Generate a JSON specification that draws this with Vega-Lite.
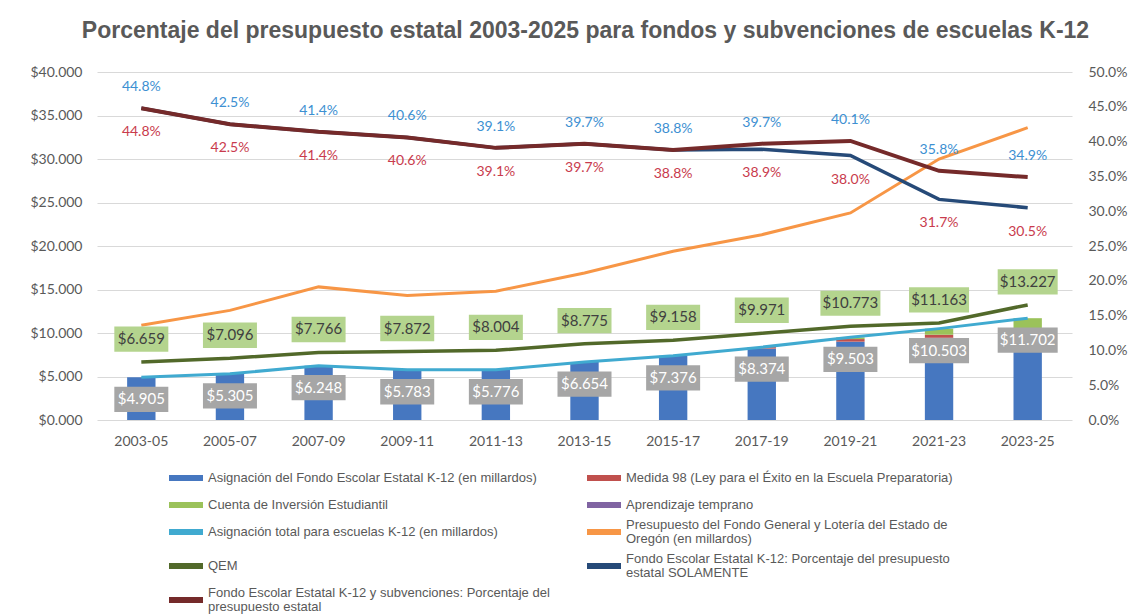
{
  "$schema": "https://vega.github.io/schema/vega-lite/v6.json",
  "autosize": {"type": "none"},
  "width": 975,
  "height": 348,
  "padding": {"left": 97, "top": 72, "right": 74, "bottom": 196},
  "background": "white",
  "title": {
    "text": "Porcentaje del presupuesto estatal 2003-2025 para fondos y subvenciones de escuelas K-12",
    "font": "Liberation Sans",
    "fontSize": 23,
    "fontWeight": "bold",
    "color": "#595959",
    "anchor": "middle",
    "baseline": "alphabetic",
    "offset": 4,
    "dx": 1
  },
  "config": {
    "view": {"stroke": null},
    "axis": {"labelFont": "Lato", "labelFontSize": 14, "labelColor": "#595959", "ticks": false, "domain": false, "title": null, "labelOverlap": false}
  },
  "datasets": {
    "bars": [
      {"period": "2003-05", "series": "Asignación del Fondo Escolar Estatal K-12 (en millardos)", "value": 4.905, "k": 1},
      {"period": "2005-07", "series": "Asignación del Fondo Escolar Estatal K-12 (en millardos)", "value": 5.305, "k": 1},
      {"period": "2007-09", "series": "Asignación del Fondo Escolar Estatal K-12 (en millardos)", "value": 6.248, "k": 1},
      {"period": "2009-11", "series": "Asignación del Fondo Escolar Estatal K-12 (en millardos)", "value": 5.783, "k": 1},
      {"period": "2011-13", "series": "Asignación del Fondo Escolar Estatal K-12 (en millardos)", "value": 5.776, "k": 1},
      {"period": "2013-15", "series": "Asignación del Fondo Escolar Estatal K-12 (en millardos)", "value": 6.654, "k": 1},
      {"period": "2015-17", "series": "Asignación del Fondo Escolar Estatal K-12 (en millardos)", "value": 7.376, "k": 1},
      {"period": "2017-19", "series": "Asignación del Fondo Escolar Estatal K-12 (en millardos)", "value": 8.204, "k": 1},
      {"period": "2019-21", "series": "Asignación del Fondo Escolar Estatal K-12 (en millardos)", "value": 9.003, "k": 1},
      {"period": "2021-23", "series": "Asignación del Fondo Escolar Estatal K-12 (en millardos)", "value": 9.453, "k": 1},
      {"period": "2023-25", "series": "Asignación del Fondo Escolar Estatal K-12 (en millardos)", "value": 10.202, "k": 1},
      {"period": "2017-19", "series": "Medida 98 (Ley para el Éxito en la Escuela Preparatoria)", "value": 0.17, "k": 2},
      {"period": "2019-21", "series": "Medida 98 (Ley para el Éxito en la Escuela Preparatoria)", "value": 0.3, "k": 2},
      {"period": "2021-23", "series": "Medida 98 (Ley para el Éxito en la Escuela Preparatoria)", "value": 0.35, "k": 2},
      {"period": "2023-25", "series": "Medida 98 (Ley para el Éxito en la Escuela Preparatoria)", "value": 0.35, "k": 2},
      {"period": "2019-21", "series": "Cuenta de Inversión Estudiantil", "value": 0.2, "k": 3},
      {"period": "2021-23", "series": "Cuenta de Inversión Estudiantil", "value": 0.7, "k": 3},
      {"period": "2023-25", "series": "Cuenta de Inversión Estudiantil", "value": 1.15, "k": 3}
    ],
    "main": [
      {"period": "2003-05", "total": 4.905, "qem": 6.659, "gf": 10.9, "pall": 0.448, "pssf": 0.448},
      {"period": "2005-07", "total": 5.305, "qem": 7.096, "gf": 12.6, "pall": 0.425, "pssf": 0.425},
      {"period": "2007-09", "total": 6.248, "qem": 7.766, "gf": 15.3, "pall": 0.414, "pssf": 0.414},
      {"period": "2009-11", "total": 5.783, "qem": 7.872, "gf": 14.3, "pall": 0.406, "pssf": 0.406},
      {"period": "2011-13", "total": 5.776, "qem": 8.004, "gf": 14.8, "pall": 0.391, "pssf": 0.391},
      {"period": "2013-15", "total": 6.654, "qem": 8.775, "gf": 16.9, "pall": 0.397, "pssf": 0.397},
      {"period": "2015-17", "total": 7.376, "qem": 9.158, "gf": 19.4, "pall": 0.388, "pssf": 0.388},
      {"period": "2017-19", "total": 8.374, "qem": 9.971, "gf": 21.3, "pall": 0.397, "pssf": 0.389},
      {"period": "2019-21", "total": 9.503, "qem": 10.773, "gf": 23.8, "pall": 0.401, "pssf": 0.380},
      {"period": "2021-23", "total": 10.503, "qem": 11.163, "gf": 30.0, "pall": 0.358, "pssf": 0.317},
      {"period": "2023-25", "total": 11.702, "qem": 13.227, "gf": 33.6, "pall": 0.349, "pssf": 0.305}
    ]
  },
  "encoding": {
    "x": {
      "field": "period", "type": "nominal", "sort": null,
      "scale": {"paddingInner": 0.68, "paddingOuter": 0.34},
      "axis": {"labelAngle": 0, "labelPadding": 14, "grid": false}
    }
  },
  "layer": [
    {
      "encoding": {
        "y": {
          "type": "quantitative", "scale": {"domain": [0, 40], "nice": false},
          "axis": {
            "values": [0, 5, 10, 15, 20, 25, 30, 35, 40],
            "labelExpr": "'$' + format(datum.value, '.3f')",
            "grid": true, "gridColor": "#d9d9d9", "gridWidth": 1, "labelPadding": 15
          }
        }
      },
      "layer": [
        {
          "data": {"name": "bars"},
          "mark": {"type": "bar"},
          "encoding": {
            "y": {"field": "value", "type": "quantitative", "aggregate": "sum", "stack": "zero"},
            "order": {"field": "k", "type": "quantitative"},
            "color": {
              "field": "series", "type": "nominal",
              "scale": {
                "domain": [
                  "Asignación del Fondo Escolar Estatal K-12 (en millardos)",
                  "Medida 98 (Ley para el Éxito en la Escuela Preparatoria)",
                  "Cuenta de Inversión Estudiantil",
                  "Aprendizaje temprano",
                  "Asignación total para escuelas K-12 (en millardos)",
                  "Presupuesto del Fondo General y Lotería del Estado de Oregón (en millardos)",
                  "QEM",
                  "Fondo Escolar Estatal K-12: Porcentaje del presupuesto estatal SOLAMENTE",
                  "Fondo Escolar Estatal K-12 y subvenciones: Porcentaje del presupuesto estatal"
                ],
                "range": ["#4677c0", "#c0504d", "#9bc25a", "#8064a2", "#40aad0", "#f79646", "#52692a", "#264a78", "#752a2a"]
              },
              "legend": {
                "title": null,
                "orient": "none",
                "direction": "horizontal",
                "legendX": 72,
                "legendY": 389,
                "columns": 2,
                "columnPadding": 37,
                "rowPadding": 3,
                "symbolType": "M-1,-0.17H1V0.17H-1Z",
                "symbolSize": 1156,
                "symbolStrokeWidth": 0,
                "symbolOpacity": 1,
                "labelOffset": 5,
                "labelFont": "Liberation Sans",
                "labelFontSize": 13,
                "labelColor": "#595959",
                "labelLimit": 600,
                "labelExpr": "datum.label == 'Presupuesto del Fondo General y Lotería del Estado de Oregón (en millardos)' ? ['Presupuesto del Fondo General y Lotería del Estado de', 'Oregón (en millardos)'] : datum.label == 'Fondo Escolar Estatal K-12: Porcentaje del presupuesto estatal SOLAMENTE' ? ['Fondo Escolar Estatal K-12: Porcentaje del presupuesto', 'estatal SOLAMENTE'] : datum.label == 'Fondo Escolar Estatal K-12 y subvenciones: Porcentaje del presupuesto estatal' ? ['Fondo Escolar Estatal K-12 y subvenciones: Porcentaje del', 'presupuesto estatal'] : datum.label",
                "encode": {
                  "labels": {
                    "update": {
                      "lineHeight": {"value": 14},
                      "dy": {"signal": "indexof(datum.value, 'Oregón') >= 0 || indexof(datum.value, 'Porcentaje') >= 0 ? -7 : 0"}
                    }
                  }
                }
              }
            }
          }
        },
        {
          "data": {"name": "main"},
          "mark": {"type": "line", "color": "#f79646", "strokeWidth": 3},
          "encoding": {"y": {"field": "gf", "type": "quantitative"}}
        },
        {
          "data": {"name": "main"},
          "mark": {"type": "line", "color": "#40aad0", "strokeWidth": 3},
          "encoding": {"y": {"field": "total", "type": "quantitative"}}
        },
        {
          "data": {"name": "main"},
          "mark": {"type": "line", "color": "#52692a", "strokeWidth": 3.5},
          "encoding": {"y": {"field": "qem", "type": "quantitative"}}
        },
        {
          "data": {"name": "main"},
          "mark": {"type": "point", "filled": true, "color": "#a6a6a6", "opacity": 1, "strokeWidth": 0, "yOffset": 22},
          "encoding": {
            "y": {"field": "total", "type": "quantitative"},
            "shape": {"condition": {"test": "datum.total >= 10", "value": "M-1,-0.42H1V0.42H-1Z"}, "value": "M-1,-0.47H1V0.47H-1Z"},
            "size": {"condition": {"test": "datum.total >= 10", "value": 3600}, "value": 2916}
          }
        },
        {
          "data": {"name": "main"},
          "mark": {"type": "text", "color": "white", "font": "Lato", "fontSize": 15, "dy": 22, "baseline": "middle"},
          "encoding": {
            "y": {"field": "total", "type": "quantitative"},
            "text": {"field": "total", "type": "quantitative", "format": "$.3f"}
          }
        },
        {
          "data": {"name": "main"},
          "mark": {"type": "point", "filled": true, "color": "#b4d48e", "opacity": 1, "strokeWidth": 0, "yOffset": -23},
          "encoding": {
            "y": {"field": "qem", "type": "quantitative"},
            "shape": {"condition": {"test": "datum.qem >= 10", "value": "M-1,-0.42H1V0.42H-1Z"}, "value": "M-1,-0.47H1V0.47H-1Z"},
            "size": {"condition": {"test": "datum.qem >= 10", "value": 3600}, "value": 2916}
          }
        },
        {
          "data": {"name": "main"},
          "mark": {"type": "text", "color": "#404040", "font": "Lato", "fontSize": 15, "dy": -23, "baseline": "middle"},
          "encoding": {
            "y": {"field": "qem", "type": "quantitative"},
            "text": {"field": "qem", "type": "quantitative", "format": "$.3f"}
          }
        }
      ]
    },
    {
      "data": {"name": "main"},
      "encoding": {
        "y": {
          "type": "quantitative", "scale": {"domain": [0, 0.5], "nice": false},
          "axis": {"orient": "right", "values": [0, 0.05, 0.1, 0.15, 0.2, 0.25, 0.3, 0.35, 0.4, 0.45, 0.5], "format": ".1%", "grid": false, "labelPadding": 16}
        }
      },
      "layer": [
        {
          "mark": {"type": "line", "color": "#264a78", "strokeWidth": 3.5},
          "encoding": {"y": {"field": "pssf", "type": "quantitative"}}
        },
        {
          "mark": {"type": "line", "color": "#752a2a", "strokeWidth": 4},
          "encoding": {"y": {"field": "pall", "type": "quantitative"}}
        },
        {
          "mark": {"type": "text", "color": "#3d90d2", "font": "Lato", "fontSize": 14, "dy": -21, "baseline": "middle"},
          "encoding": {
            "y": {"field": "pall", "type": "quantitative"},
            "text": {"field": "pall", "type": "quantitative", "format": ".1%"}
          }
        },
        {
          "mark": {"type": "text", "color": "#c93b4d", "font": "Lato", "fontSize": 14, "dy": 24, "baseline": "middle"},
          "encoding": {
            "y": {"field": "pssf", "type": "quantitative"},
            "text": {"field": "pssf", "type": "quantitative", "format": ".1%"}
          }
        }
      ]
    }
  ],
  "resolve": {"scale": {"y": "independent"}}
}
